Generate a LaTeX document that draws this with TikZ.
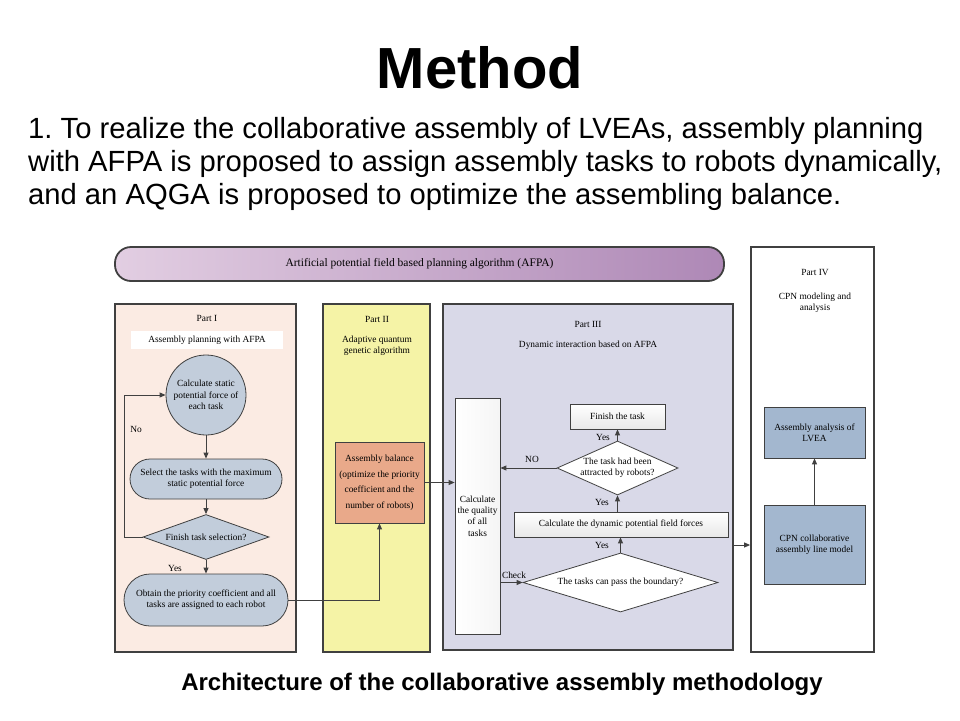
\documentclass[tikz,border=0pt]{standalone}
\usepackage{fontspec}
\setmainfont{Liberation Sans}
\newfontfamily\tnr{Liberation Serif}
\usetikzlibrary{shapes.geometric,arrows.meta}
\definecolor{frame}{HTML}{404040}
\definecolor{pI}{HTML}{FBEBE3}
\definecolor{pII}{HTML}{F5F3A6}
\definecolor{pIII}{HTML}{D9D9E8}
\definecolor{nodeblue}{HTML}{C2CDDB}
\definecolor{orangebox}{HTML}{E9A98A}
\definecolor{bluebox}{HTML}{A3B7CF}
\definecolor{banL}{HTML}{E2CEE2}
\definecolor{banR}{HTML}{AE88B6}
\frenchspacing
\begin{document}
\begin{tikzpicture}[x=1pt,y=-1pt,
  partbox/.style={draw=frame, line width=1.8pt, inner sep=0pt},
  flow/.style={draw=frame, line width=0.8pt, align=center, inner sep=1pt,
     font=\tnr\fontsize{9.4}{11.3}\selectfont},
  lbl/.style={align=center, inner sep=0pt, font=\tnr\fontsize{9.4}{11.3}\selectfont},
  arr/.style={draw=frame, line width=0.9pt, -{Triangle[length=6pt,width=5pt]}},
  gbox/.style={flow, top color=white, bottom color=gray!18},
  dia/.style={flow, diamond, inner sep=0pt}
]
\useasboundingbox (0,0) rectangle (960,720);
\fill[white] (0,0) rectangle (960,720);

% title and text
\node[font=\bfseries\fontsize{58}{60}\selectfont, inner sep=0pt, anchor=base] (title) at (480,88) {Method};
\node[anchor=base west, inner sep=0pt, font=\fontsize{29.2}{33}\selectfont] (l1) at (28,138) {1. To realize the collaborative assembly of LVEAs, assembly planning};
\node[anchor=base west, inner sep=0pt, font=\fontsize{29.2}{33}\selectfont] (l2) at (28,171) {with AFPA is proposed to assign assembly tasks to robots dynamically,};
\node[anchor=base west, inner sep=0pt, font=\fontsize{29.2}{33}\selectfont] (l3) at (28,204) {and an AQGA is proposed to optimize the assembling balance.};
\node[anchor=base, inner sep=0pt, font=\bfseries\fontsize{24}{26}\selectfont] (cap) at (502,690) {Architecture of the collaborative assembly methodology};

% banner
\node[draw=frame, line width=1.8pt, rounded corners=16pt, left color=banL, right color=banR,
  minimum width=609, minimum height=34, inner sep=0pt,
  font=\tnr\fontsize{11.5}{13}\selectfont] (ban) at (419.5,264) {Artificial potential field based planning algorithm (AFPA)};

% part boxes
\node[partbox, fill=pI, minimum width=181, minimum height=348] (p1) at (205.5,478) {};
\node[partbox, fill=pII, minimum width=107, minimum height=348] (p2) at (376.5,478) {};
\node[partbox, fill=pIII, minimum width=290, minimum height=346] (p3) at (588,477) {};
\node[partbox, fill=white, minimum width=123, minimum height=405] (p4) at (812.5,449.5) {};

% Part I
\node[lbl] (t1) at (207,318) {Part I};
\node[lbl, fill=white, minimum width=152, minimum height=18] (t1b) at (207,340) {Assembly planning with AFPA};
\node[flow, circle, fill=nodeblue, minimum size=80, inner sep=0pt] (calc) at (206,395) {Calculate static\\potential force of\\each task};
\node[flow, fill=nodeblue, rounded corners=20pt, minimum width=152, minimum height=40] (sel) at (206,479) {Select the tasks with the maximum\\static potential force};
\node[dia, fill=nodeblue, aspect=2.8, minimum width=126, minimum height=45] (fin) at (206,537) {Finish task selection?};
\node[flow, fill=nodeblue, rounded corners=26pt, minimum width=164, minimum height=52] (obt) at (206,600) {Obtain the priority coefficient and all\\tasks are assigned to each robot};
\node[lbl] (no1) at (136,429) {No};
\node[lbl] (yes1) at (175,568) {Yes};

\draw[arr] (calc) -- (sel);
\draw[arr] (sel) -- (fin);
\draw[arr] (fin) -- (obt);
\draw[arr] (fin.west) -- ++(-18,0) |- (calc.west);

% Part II
\node[lbl] (t2) at (377,319) {Part II};
\node[lbl] (t2b) at (377,346) {Adaptive quantum\\genetic algorithm};
\node[flow, fill=orangebox, minimum width=89, minimum height=81, font=\tnr\fontsize{9.4}{15.5}\selectfont] (bal) at (379.5,482.5) {Assembly balance\\(optimize the priority\\coefficient and the\\number of robots)};
\draw[arr] (obt.east) -| (bal.south);

% Part III
\node[lbl] (t3) at (588,324) {Part III};
\node[lbl] (t3b) at (588,345) {Dynamic interaction based on AFPA};
\node[flow, left color=white, right color=gray!8, minimum width=45, minimum height=236, inner sep=0pt] (qual) at (477.5,516) {Calculate\\the quality\\of all\\tasks};
\node[gbox, minimum width=95, minimum height=25] (done) at (617.5,416.5) {Finish the task};
\node[dia, fill=white, aspect=2.24, minimum width=121, minimum height=54] (att) at (617.5,468) {The task had been\\attracted by robots?};
\node[gbox, minimum width=214, minimum height=25] (dyn) at (621,524.5) {Calculate the dynamic potential field forces};
\node[dia, fill=white, aspect=3.3, minimum width=195, minimum height=59] (pass) at (620.5,582.5) {The tasks can pass the boundary?};

\draw[arr] (bal.east) -- (bal.east -| qual.west);
\draw[arr] (att) -- (done);
\draw[arr] (att.west) -- (att.west -| qual.east);
\draw[arr] (att.south |- dyn.north) -- (att.south);
\draw[arr] (pass.north) -- (pass.north |- dyn.south);
\draw[arr] (qual.east |- pass.west) -- (pass.west);
\node[lbl] (ynd) at (603,437) {Yes};
\node[lbl] (nolbl) at (532,459) {NO};
\node[lbl] (ydyn) at (602,502) {Yes};
\node[lbl] (ypass) at (602,545) {Yes};
\node[lbl] (chk) at (514,575) {Check};

% Part IV
\node[lbl] (t4) at (815,272) {Part IV};
\node[lbl] (t4b) at (815,303) {CPN modeling and\\analysis};
\node[flow, fill=bluebox, minimum width=101, minimum height=51] (ana) at (814.5,432.5) {Assembly analysis of\\LVEA};
\node[flow, fill=bluebox, minimum width=101, minimum height=79] (cpn) at (814.5,544.5) {CPN collaborative\\assembly line model};
\draw[arr] (cpn) -- (ana);

\coordinate (o3) at (733,545);
\draw[arr] (o3) -- (o3 -| p4.west);
\end{tikzpicture}
\end{document}
